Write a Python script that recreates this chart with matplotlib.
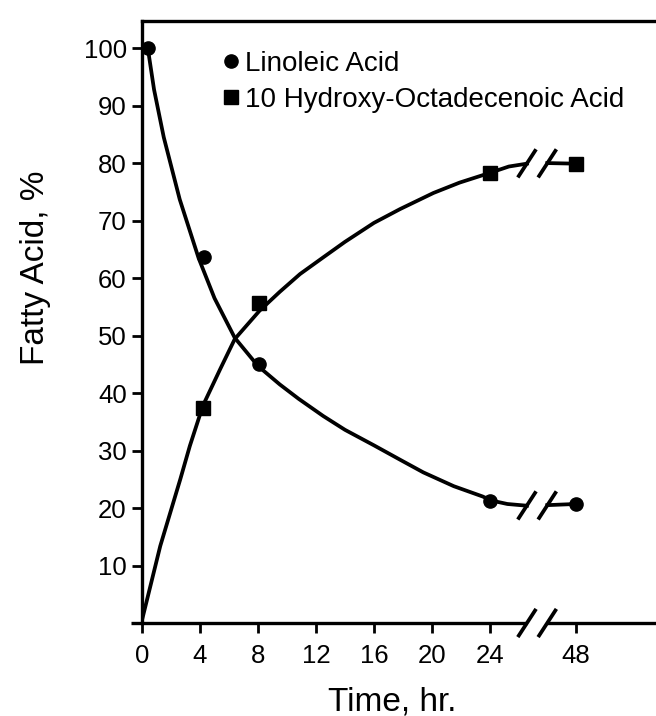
import matplotlib
matplotlib.use("Agg")
import matplotlib.pyplot as plt
import numpy as np

plt.rcParams['font.family'] = ['Liberation Sans', 'DejaVu Sans']

# measured data points (hours, %); the 48 h column sits after the axis break
lin_time = [0.4, 4.3, 8.1, 24.0, 48]
lin_pct = [100.0, 63.6, 45.0, 21.3, 20.7]
hyd_time = [4.2, 8.1, 24.0, 48]
hyd_pct = [37.4, 55.6, 78.3, 79.9]

# fitted curves (before and after the break)
lin_curve_t = [0.4, 0.83, 1.5, 2.6, 3.9, 5.0, 6.4, 8.0, 9.5, 10.8, 12.5, 14.0,
               16.0, 17.8, 19.4, 21.5, 23.5, 24.1, 25.2, 26.55]
lin_curve_v = [100.0, 92.8, 84.5, 73.7, 63.5, 56.5, 49.6, 44.7, 41.5, 39.0, 36.0, 33.6,
               30.9, 28.4, 26.2, 23.8, 22.0, 21.3, 20.7, 20.4]
lin_tail_t = [46.05, 48]
lin_tail_v = [20.5, 20.7]

hyd_curve_t = [0.0, 1.26, 2.64, 3.3, 4.2, 5.4, 6.4, 8.1, 9.5, 10.9, 12.5, 14.0,
               16.0, 17.8, 20.1, 21.9, 24.0, 25.3, 26.55]
hyd_curve_v = [0.5, 13.4, 25.0, 30.8, 37.8, 44.2, 49.4, 54.3, 57.6, 60.7, 63.6, 66.3,
               69.6, 72.0, 74.8, 76.6, 78.3, 79.4, 79.9]
hyd_tail_t = [46.05, 48]
hyd_tail_v = [80.0, 79.9]

x_ticks = [0, 4, 8, 12, 16, 20, 24, 48]
y_ticks = [0, 10, 20, 30, 40, 50, 60, 70, 80, 90, 100]

X48 = 29.9        # axis position of the 48 h column
BREAKS = [26.55, 27.95]


def pos(t):
    t = np.asarray(t, dtype=float)
    return np.where(t > 30, X48 + (t - 48), t)


fig = plt.figure(figsize=(6.56, 7.16), dpi=100)
ax = fig.add_axes([142 / 656, 93 / 716, 514 / 656, 602.5 / 716])
ax.set_xlim(0, 35.45)
ax.set_ylim(0, 104.8)

lw = 2.7
ax.plot(pos(lin_curve_t), lin_curve_v, color='black', lw=lw)
ax.plot(pos(lin_tail_t), lin_tail_v, color='black', lw=lw)
ax.plot(pos(hyd_curve_t), hyd_curve_v, color='black', lw=lw)
ax.plot(pos(hyd_tail_t), hyd_tail_v, color='black', lw=lw)

ax.plot(pos(lin_time), lin_pct, 'o', color='black', ms=9.5, label='Linoleic Acid',
        clip_on=False, zorder=5)
ax.plot(pos(hyd_time), hyd_pct, 's', color='black', ms=9.5,
        label='10 Hydroxy-Octadecenoic Acid', clip_on=False, zorder=5)

# break marks on the curves and on the time axis
dx, dy = 0.63, 2.45
for yc in [20.45, 79.95, 0.0]:
    for xc in BREAKS:
        ax.plot([xc - dx, xc + dx], [yc - dy, yc + dy], color='black', lw=lw,
                clip_on=False, zorder=6, solid_capstyle='butt')

# bottom axis drawn by hand so it can have a gap at the break
ax.spines['bottom'].set_visible(False)
ax.spines['right'].set_visible(False)
for side in ['left', 'top']:
    ax.spines[side].set_linewidth(2.4)
ax.plot([-0.75, BREAKS[0]], [0, 0], color='black', lw=2.4, clip_on=False,
        solid_capstyle='butt')
ax.plot([BREAKS[1], 35.45], [0, 0], color='black', lw=2.4, clip_on=False,
        solid_capstyle='butt')

ax.set_xticks(pos(x_ticks))
ax.set_xticklabels([str(t) for t in x_ticks])
ax.set_yticks(y_ticks)
ax.set_yticklabels([''] + [str(v) for v in y_ticks[1:]])
ax.tick_params(direction='out', length=7, width=2.0, labelsize=18.5, pad=4)
ax.tick_params(axis='x', pad=8)

ax.set_xlabel('Time, hr.', fontsize=24)
ax.xaxis.set_label_coords((392 - 142) / 514, -0.105)
ax.set_ylabel('Fatty Acid, %', fontsize=24)
ax.yaxis.set_label_coords(-0.178, 0.59)

ax.legend(loc='upper left', bbox_to_anchor=(0.157, 0.95), frameon=False,
          fontsize=20, handlelength=0.6, handletextpad=0.2,
          labelspacing=0.38, borderaxespad=0, borderpad=0)

fig.savefig('out.png', dpi=100)
